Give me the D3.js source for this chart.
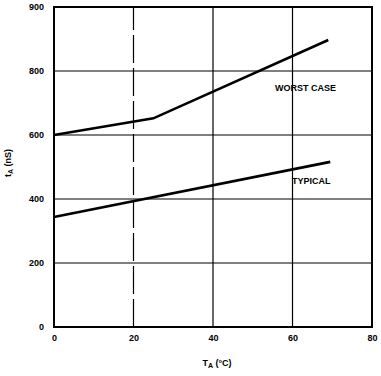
<!DOCTYPE html>
<html><head><meta charset="utf-8">
<script src="https://cdn.jsdelivr.net/npm/d3@7"></script>
<style>body{margin:0;background:#fff}svg{display:block}text{font-family:"Liberation Sans",Arial,sans-serif;font-weight:bold;fill:#000}</style>
</head><body>
<script>
const xTicks = [0, 20, 40, 60, 80];
const yTicks = [0, 200, 400, 600, 800, 1000];
const yTickLabels = ["0", "200", "400", "600", "800", "900"];
const worstT = [0, 25, 69];
const worstV = [600, 652, 897];
const typicalT = [0, 69.5];
const typicalV = [344, 516];
const seriesLabels = ["WORST CASE", "TYPICAL"];

const W = 381, H = 376;
const m = {l: 54, r: 9, t: 7, b: 49};
const svg = d3.select("body").append("svg").attr("width", W).attr("height", H);
const x = d3.scaleLinear().domain([0, 80]).range([m.l, W - m.r]);
const y = d3.scaleLinear().domain([0, 1000]).range([H - m.b, m.t]);

// gridlines
svg.append("g").selectAll("line").data(xTicks.slice(1, -1)).join("line")
  .attr("x1", d => x(d)).attr("x2", d => x(d)).attr("y1", y(0)).attr("y2", y(1000))
  .attr("stroke", "#000").attr("stroke-width", 1.2)
  .attr("stroke-dasharray", d => d === 20 ? "28,5" : null);
svg.append("g").selectAll("line").data(yTicks.slice(1, -1)).join("line")
  .attr("x1", x(0)).attr("x2", x(80)).attr("y1", d => y(d)).attr("y2", d => y(d))
  .attr("stroke", "#000").attr("stroke-width", 1.2);

// frame
svg.append("rect").attr("x", x(0)).attr("y", y(1000)).attr("width", x(80) - x(0)).attr("height", y(0) - y(1000))
  .attr("fill", "none").attr("stroke", "#000").attr("stroke-width", 2);

// axes (labels only)
const xAxis = d3.axisBottom(x).tickValues(xTicks).tickSize(0).tickPadding(8);
const gx = svg.append("g").attr("transform", `translate(0,${y(0)})`).call(xAxis);
gx.select(".domain").remove();
gx.selectAll("text").attr("font-size", 9).attr("font-family", "Liberation Sans, Arial, sans-serif").attr("font-weight", "bold");

const yAxis = d3.axisLeft(y).tickValues(yTicks).tickSize(0).tickPadding(10)
  .tickFormat((d, i) => yTickLabels[i]);
const gy = svg.append("g").attr("transform", `translate(${x(0)},0)`).call(yAxis);
gy.select(".domain").remove();
gy.selectAll("text").attr("font-size", 9).attr("font-family", "Liberation Sans, Arial, sans-serif").attr("font-weight", "bold");

// series lines
const line = d3.line().x(d => x(d[0])).y(d => y(d[1]));
svg.append("path").datum(worstT.map((t, i) => [t, worstV[i]])).attr("d", line)
  .attr("fill", "none").attr("stroke", "#000").attr("stroke-width", 2.6);
svg.append("path").datum(typicalT.map((t, i) => [t, typicalV[i]])).attr("d", line)
  .attr("fill", "none").attr("stroke", "#000").attr("stroke-width", 2.6);

// series labels
svg.append("text").attr("x", x(63.3)).attr("y", y(737)).attr("text-anchor", "middle")
  .attr("font-size", 9).text(seriesLabels[0]);
svg.append("text").attr("x", x(64.7)).attr("y", y(446)).attr("text-anchor", "middle")
  .attr("font-size", 9).text(seriesLabels[1]);

// axis titles
const xt = svg.append("text").attr("x", 217).attr("y", 366).attr("text-anchor", "middle").attr("font-size", 9);
xt.append("tspan").text("T");
xt.append("tspan").attr("font-size", 7).attr("dy", 2).text("A");
xt.append("tspan").attr("dy", -2).text(" (°C)");

const yt = svg.append("text").attr("transform", "translate(11,163) rotate(-90)").attr("text-anchor", "middle").attr("font-size", 9);
yt.append("tspan").text("t");
yt.append("tspan").attr("font-size", 7).attr("dy", 2).text("A");
yt.append("tspan").attr("dy", -2).text(" (nS)");
</script>
</body></html>
